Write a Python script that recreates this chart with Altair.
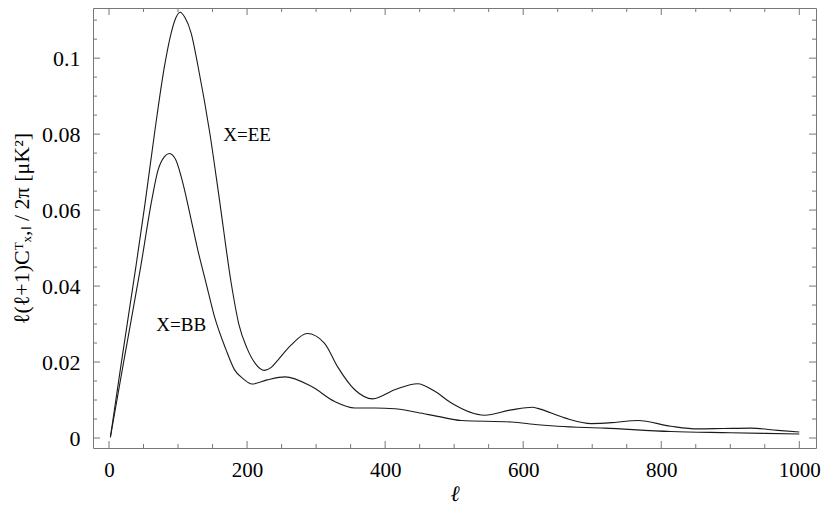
import altair as alt
import pandas as pd

# ---- data ----
ee_l = [2, 17, 39, 52, 66, 80, 90, 97, 103, 110, 119, 129, 146, 160, 177, 188, 200, 212, 225, 235, 245, 264, 287, 312, 331, 356, 382, 414, 447, 472, 496, 544, 583, 614, 621, 660, 699, 733, 766, 814, 853, 890, 930, 969, 1000]
ee_v = [0.0002, 0.0188, 0.0452, 0.0615, 0.0803, 0.0975, 0.1066, 0.1107, 0.1121, 0.1107, 0.1066, 0.0978, 0.0803, 0.0627, 0.0408, 0.0300, 0.0236, 0.0196, 0.0178, 0.0186, 0.0206, 0.0245, 0.0275, 0.025, 0.0188, 0.0127, 0.0103, 0.0127, 0.0143, 0.0123, 0.0092, 0.0060, 0.0074, 0.0081, 0.0078, 0.0053, 0.0038, 0.0041, 0.0046, 0.0031, 0.0024, 0.0025, 0.0026, 0.0020, 0.0016]

bb_l = [2, 20, 46, 62, 71, 80, 87.5, 97, 107, 118, 128.5, 140.6, 152.7, 169.6, 181.7, 195, 207, 229, 255, 293, 327, 356, 385, 414, 447, 476, 510, 583, 621, 650, 718, 814, 900, 1000]
bb_v = [0.0002, 0.0188, 0.0452, 0.0627, 0.0705, 0.0740, 0.0749, 0.0731, 0.0671, 0.0583, 0.0496, 0.0408, 0.032, 0.0232, 0.018, 0.0155, 0.0142, 0.0153, 0.0161, 0.0136, 0.0096, 0.0079, 0.0079, 0.0077, 0.0067, 0.0057, 0.0046, 0.0042, 0.0035, 0.0031, 0.0026, 0.0017, 0.0014, 0.00105]

x_major = [0, 200, 400, 600, 800, 1000]
x_minor = [50, 100, 150, 250, 300, 350, 450, 500, 550, 650, 700, 750, 850, 900, 950]
y_major = [0, 0.02, 0.04, 0.06, 0.08, 0.1]
y_minor = [0.005, 0.01, 0.015, 0.025, 0.03, 0.035, 0.045, 0.05, 0.055,
           0.065, 0.07, 0.075, 0.085, 0.09, 0.095, 0.105, 0.11]

label_text = ["X=EE", "X=BB"]
label_l = [200, 104.6]
label_v = [0.0798, 0.0298]

x_title = "ℓ"
y_title = "ℓ(ℓ+1)Cᵀₓ,ₗ / 2π [μK²]"

# ---- layout / style ----
W, H = 723, 440
MAJ, MIN = 7, 4
FRAME = "#777777"
SERIF = "Times New Roman, Liberation Serif, Tinos, Times, serif"

curves = pd.concat([
    pd.DataFrame({"l": ee_l, "v": ee_v, "s": "EE"}),
    pd.DataFrame({"l": bb_l, "v": bb_v, "s": "BB"}),
])

xs = alt.Scale(domain=[-23.2, 1024.2], nice=False, zero=False)
ys = alt.Scale(domain=[-0.00263, 0.1132], nice=False, zero=False)

AX = alt.Axis(values=x_major, ticks=False, domain=False, grid=False,
              labelPadding=11, labelFontSize=21, title=x_title,
              titleFontStyle="italic", titlePadding=3, format="d")
AY = alt.Axis(values=y_major, ticks=False, domain=False, grid=False,
              labelPadding=13, format="~g", title=y_title, titlePadding=8)

lines = alt.Chart(curves).mark_line(
    interpolate="monotone", color="#1a1a1a", strokeWidth=1.1
).encode(
    x=alt.X("l:Q", scale=xs, axis=AX),
    y=alt.Y("v:Q", scale=ys, axis=AY),
    detail="s:N",
)

xmaj = pd.DataFrame({"l": x_major})
xmin = pd.DataFrame({"l": x_minor})
ymaj = pd.DataFrame({"v": y_major})
ymin = pd.DataFrame({"v": y_minor})


def xticks(df, length):
    bottom = alt.Chart(df).mark_rule(color=FRAME, strokeWidth=1).encode(
        x=alt.X("l:Q", scale=xs, axis=AX),
        y=alt.value(H), y2=alt.value(H - length))
    top = alt.Chart(df).mark_rule(color=FRAME, strokeWidth=1).encode(
        x=alt.X("l:Q", scale=xs, axis=AX),
        y=alt.value(0), y2=alt.value(length))
    return [bottom, top]


def yticks(df, length):
    left = alt.Chart(df).mark_rule(color=FRAME, strokeWidth=1).encode(
        y=alt.Y("v:Q", scale=ys, axis=AY),
        x=alt.value(0), x2=alt.value(length))
    right = alt.Chart(df).mark_rule(color=FRAME, strokeWidth=1).encode(
        y=alt.Y("v:Q", scale=ys, axis=AY),
        x=alt.value(W), x2=alt.value(W - length))
    return [left, right]


labels = alt.Chart(pd.DataFrame({"txt": label_text, "l": label_l, "v": label_v})).mark_text(
    font=SERIF, fontSize=19, color="black", align="center", baseline="middle"
).encode(
    x=alt.X("l:Q", scale=xs, axis=AX),
    y=alt.Y("v:Q", scale=ys, axis=AY),
    text="txt:N",
)

layers = [lines] + xticks(xmaj, MAJ) + xticks(xmin, MIN) + yticks(ymaj, MAJ) + yticks(ymin, MIN) + [labels]

chart = alt.layer(*layers).properties(
    width=W, height=H,
    autosize=alt.AutoSizeParams(type="none"),
    padding={"left": 85, "top": 0, "right": 5, "bottom": 56},
    background="white",
).configure_view(
    stroke=FRAME, strokeWidth=1
).configure_axis(
    labelFont=SERIF, labelFontSize=22, labelColor="black",
    titleFont=SERIF, titleFontSize=22, titleColor="black", titleFontWeight="normal",
)

chart.save("out.html", embed_options={"renderer": "svg", "actions": False})
